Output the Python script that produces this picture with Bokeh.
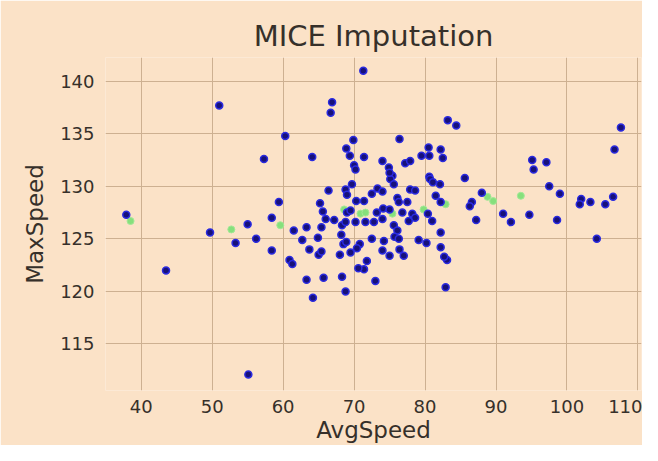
from bokeh.plotting import figure
from bokeh.models import Range1d, FixedTicker, ColumnDataSource
from bokeh.embed import file_html
from bokeh.resources import INLINE

# Observed (complete) records
avg_speed_obs = [37.9, 43.5, 49.7, 51.0, 53.3, 55.0, 55.1, 56.2, 57.3, 58.4, 58.4, 59.4, 60.3, 60.9,
                 61.3, 61.5, 62.7, 63.3, 63.7, 63.3, 64.1, 64.2, 64.9, 65.0, 65.4, 65.4, 65.2, 65.6,
                 66.0, 65.7, 66.4, 66.7, 66.9, 67.2, 68.3, 68.0, 68.5, 68.3, 68.8, 68.8, 69.0, 68.9,
                 69.4, 70.0, 70.2, 69.9, 71.3, 71.4, 74.0, 74.9, 75.4, 76.4, 77.2, 77.9, 79.5, 80.5,
                 80.6, 82.2, 82.5, 80.6, 83.2, 84.4, 85.6, 88.0, 86.6, 86.3, 87.2, 91.0, 92.1, 94.7,
                 95.1, 95.3, 97.1, 97.5, 99.0, 98.6, 102.0, 101.8, 103.3, 105.4, 106.5, 106.7, 107.6,
                 104.2, 69.7, 70.3, 71.4, 72.5, 73.3, 74.0, 75.1, 75.0, 75.6, 76.1, 76.3, 77.5, 77.9,
                 78.6, 80.7, 81.1, 82.1, 81.5, 82.2, 69.0, 69.5, 73.2, 74.1, 75.0, 76.8, 78.2, 78.6,
                 80.4, 81.0, 68.8, 70.2, 71.6, 72.8, 74.0, 75.6, 76.1, 77.7, 68.2, 68.9, 70.8, 70.4,
                 72.5, 74.2, 75.7, 76.3, 79.1, 80.2, 82.2, 82.2, 74.0, 75.0, 76.4, 77.0, 69.5, 71.8,
                 71.4, 70.6, 83.1, 82.7, 73.0, 82.9]
max_speed_obs = [127.3, 122.0, 125.6, 137.7, 124.6, 126.4, 112.1, 125.0, 132.6, 127.0, 123.9, 128.5,
                 134.8, 123.0, 122.6, 125.8, 124.9, 126.1, 124.0, 121.1, 132.8, 119.4, 125.1, 123.5,
                 123.8, 126.1, 128.4, 127.6, 126.9, 121.3, 129.6, 137.0, 138.0, 126.8, 126.3, 123.5,
                 124.5, 121.4, 120.0, 129.7, 129.2, 133.6, 132.9, 132.0, 131.6, 134.4, 141.0, 132.8,
                 132.4, 131.8, 131.0, 134.5, 132.2, 132.4, 132.9, 133.7, 132.9, 133.5, 132.7, 130.9,
                 136.3, 135.8, 130.8, 129.4, 128.5, 128.1, 126.8, 127.4, 126.6, 127.3, 132.5, 131.6,
                 132.3, 130.0, 129.3, 126.8, 128.8, 128.3, 128.5, 128.3, 129.0, 133.5, 135.6, 125.0,
                 130.2, 128.6, 128.6, 129.3, 129.8, 129.5, 130.7, 131.3, 130.2, 128.9, 128.5, 128.5,
                 129.7, 129.6, 130.7, 130.4, 130.2, 129.1, 128.5, 127.5, 127.7, 127.5, 127.9, 127.8,
                 127.5, 127.4, 127.0, 127.4, 126.7, 126.6, 126.6, 126.6, 126.6, 126.9, 126.3, 125.8,
                 126.7, 125.4, 124.7, 124.5, 124.1, 125.0, 124.8, 125.2, 125.0, 124.9, 124.6, 125.6,
                 124.2, 123.9, 123.4, 124.0, 123.4, 123.7, 122.9, 122.1, 122.2, 123.0, 123.3, 121.0,
                 120.4]

# Imputed records
avg_speed_imp = [38.5, 52.7, 59.6, 68.6, 70.9, 71.6, 75.4, 79.8, 82.9, 88.8, 89.6, 93.5]
max_speed_imp = [126.7, 125.9, 126.3, 127.8, 127.4, 127.5, 127.4, 127.8, 128.3, 129.0, 128.6, 129.1]

x_ticks = [40, 50, 60, 70, 80, 90, 100, 110]
y_ticks = [115, 120, 125, 130, 135, 140]

bg = "#fbe2c7"
text_col = "#36302a"
font = "DejaVu Sans"

p = figure(width=642, height=445, output_backend="svg", toolbar_location=None,
           x_range=Range1d(34.97, 110.5), y_range=Range1d(110.57, 142.26),
           min_border_left=105, min_border_right=1, min_border_top=57, min_border_bottom=52,
           background_fill_color=bg, border_fill_color=bg, outline_line_color=None,
           title="MICE Imputation")

p.title.align = "center"
p.title.text_font = font
p.title.text_font_size = "29px"
p.title.text_font_style = "normal"
p.title.text_color = text_col
p.title.standoff = 9

p.xaxis.ticker = FixedTicker(ticks=x_ticks)
p.yaxis.ticker = FixedTicker(ticks=y_ticks)
p.xaxis.axis_label = "AvgSpeed"
p.yaxis.axis_label = "MaxSpeed"
for ax in (p.xaxis, p.yaxis):
    ax.axis_line_color = None
    ax.major_tick_line_color = None
    ax.minor_tick_line_color = None
    ax.major_label_text_font = font
    ax.major_label_text_font_size = "18px"
    ax.major_label_text_color = text_col
    ax.axis_label_text_font = font
    ax.axis_label_text_font_size = "23px"
    ax.axis_label_text_font_style = "normal"
    ax.axis_label_text_color = text_col
p.xaxis.major_label_standoff = 3
p.yaxis.major_label_standoff = 5
p.xaxis.axis_label_standoff = 1
p.yaxis.axis_label_standoff = 9

p.grid.grid_line_color = "#cdb091"
p.grid.grid_line_width = 1

src_imp = ColumnDataSource(dict(x=avg_speed_imp, y=max_speed_imp))
src_obs = ColumnDataSource(dict(x=avg_speed_obs, y=max_speed_obs))
p.scatter("x", "y", source=src_imp, size=7, fill_color="#86e07c", line_color="#a3e896", line_width=1)
p.scatter("x", "y", source=src_obs, size=7, fill_color="#17117a", line_color="#2a2ae0", line_width=1.5)

open("out.html", "w").write(file_html(p, INLINE))
